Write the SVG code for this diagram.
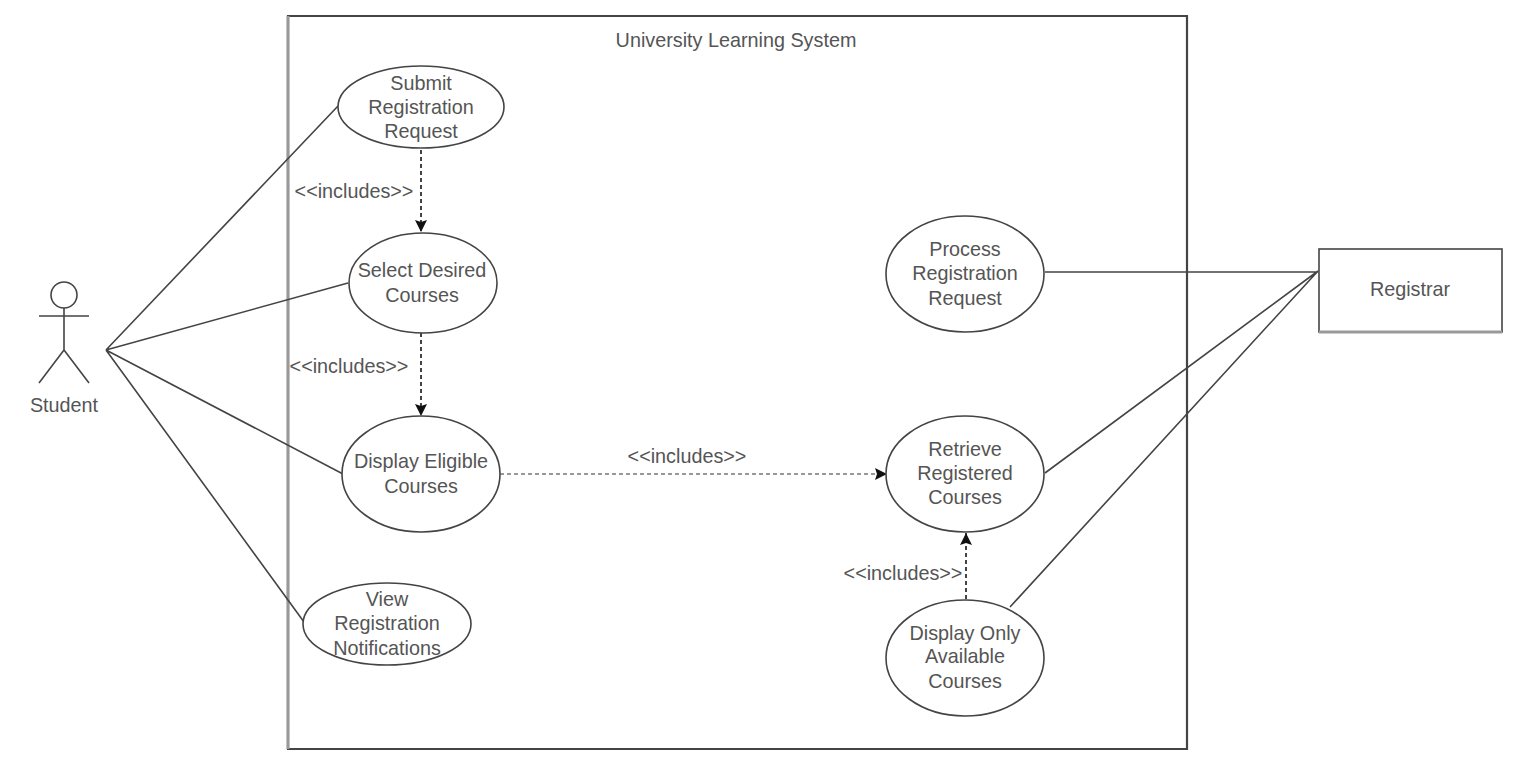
<svg xmlns="http://www.w3.org/2000/svg" width="1525" height="768" viewBox="0 0 1525 768">
<style>
.s{fill:#fff;stroke:#444;stroke-width:1.6}
.l{fill:none;stroke:#444;stroke-width:1.6}
.d{fill:none;stroke:#444;stroke-width:2;stroke-dasharray:4 3}
.d2{fill:none;stroke:#333;stroke-width:1.2;stroke-dasharray:4 3}
text{font-family:"Liberation Sans",Arial,sans-serif;font-size:19.8px;fill:#555;text-anchor:middle}
</style>
<defs><marker id="a" markerUnits="userSpaceOnUse" markerWidth="14" markerHeight="14" refX="12" refY="7" orient="auto"><path d="M0 1L12 7L0 13L2 7Z" fill="#111"/></marker></defs>
<rect width="1525" height="768" fill="#fff"/>
<g id="system"><path d="M288 16H1187V749H288Z" fill="#fff" stroke="#444" stroke-width="2.2"/><path d="M288 16V749" stroke="#999" stroke-width="3"/><text x="736" y="47">University Learning System</text></g>
<g id="connectors">
<path class="l" d="M106 350L338 106M106 350L348 283M106 350L343 474M106 350L304 622"/>
<path class="l" d="M1045 272H1318M1045 473L1318 271M1010 607L1318 271"/>
<path class="d" marker-end="url(#a)" d="M421 150V232"/>
<path class="d" marker-end="url(#a)" d="M421 333V416"/>
<path class="d2" marker-end="url(#a)" d="M500 474H887"/>
<path class="d" marker-end="url(#a)" d="M966 599V533"/>
</g>
<g id="labels"><text x="354" y="198">&lt;&lt;includes&gt;&gt;</text><text x="349" y="373">&lt;&lt;includes&gt;&gt;</text><text x="687" y="463">&lt;&lt;includes&gt;&gt;</text><text x="903" y="580">&lt;&lt;includes&gt;&gt;</text></g>
<g id="student" class="l"><circle cx="64" cy="295" r="13"/><path d="M39 316H89M64 308V350M64 350L39 383M64 350L89 383"/><text x="64" y="412" stroke="none">Student</text></g>
<g id="submit"><ellipse class="s" cx="421" cy="107" rx="83" ry="41"/><text x="421" y="90">Submit</text><text x="421" y="114">Registration</text><text x="421" y="138">Request</text></g>
<g id="select"><ellipse class="s" cx="423" cy="283" rx="74" ry="50"/><text x="422" y="277">Select Desired</text><text x="422" y="302">Courses</text></g>
<g id="display"><ellipse class="s" cx="421" cy="474" rx="79" ry="58"/><text x="421" y="468">Display Eligible</text><text x="421" y="493">Courses</text></g>
<g id="view"><ellipse class="s" cx="387" cy="624" rx="84" ry="41"/><text x="387" y="606">View</text><text x="387" y="630">Registration</text><text x="387" y="655">Notifications</text></g>
<g id="process"><ellipse class="s" cx="965" cy="274" rx="79" ry="58"/><text x="965" y="256">Process</text><text x="965" y="280">Registration</text><text x="965" y="305">Request</text></g>
<g id="retrieve"><ellipse class="s" cx="965" cy="474" rx="79" ry="58"/><text x="965" y="456">Retrieve</text><text x="965" y="480">Registered</text><text x="965" y="504">Courses</text></g>
<g id="only"><ellipse class="s" cx="965" cy="658" rx="79" ry="58"/><text x="965" y="640">Display Only</text><text x="965" y="663">Available</text><text x="965" y="688">Courses</text></g>
<g id="registrar"><rect class="s" x="1319" y="249" width="183" height="83"/><path d="M1319 332H1502" stroke="#999" stroke-width="3"/><text x="1410" y="296">Registrar</text></g>
</svg>
